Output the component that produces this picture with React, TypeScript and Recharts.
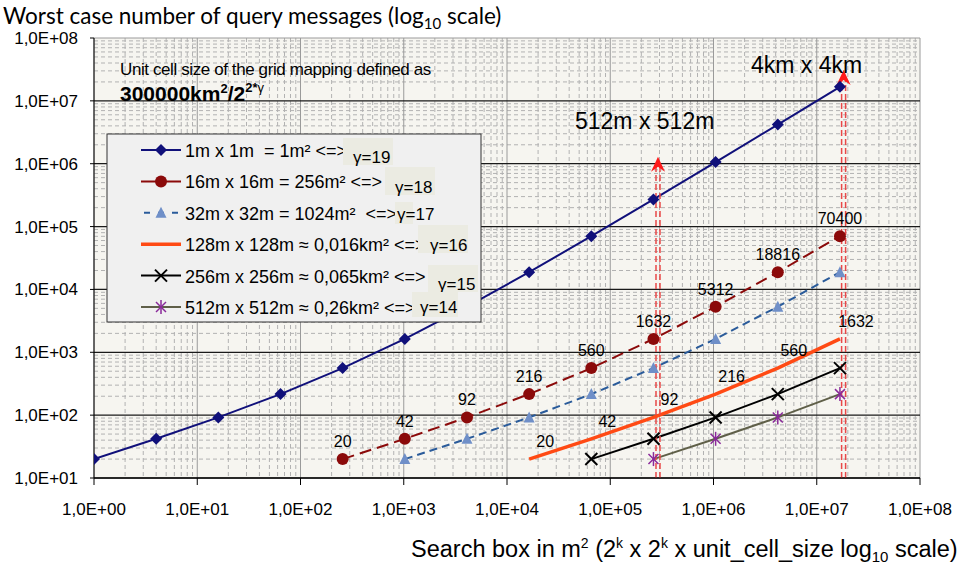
import React from 'react';
import { ComposedChart, Line, XAxis, YAxis, CartesianGrid, ReferenceLine, LabelList } from 'recharts';

const gamma19Sizes = [1, 4, 16, 64, 256, 1024, 4096, 16384, 65536, 262144, 1048576, 4194304, 16777216];
const gamma19Messages = [20, 42, 92, 216, 560, 1632, 5312, 18816, 70400, 270000, 1060000, 4200000, 16700000];
const gamma18Sizes = [256, 1024, 4096, 16384, 65536, 262144, 1048576, 4194304, 16777216];
const gamma18Messages = [20, 42, 92, 216, 560, 1632, 5312, 18816, 70400];
const gamma17Sizes = [1024, 4096, 16384, 65536, 262144, 1048576, 4194304, 16777216];
const gamma17Messages = [20, 42, 92, 216, 560, 1632, 5312, 18816];
const gamma16Sizes = [16384, 65536, 262144, 1048576, 4194304, 16777216];
const gamma16Messages = [20, 42, 92, 216, 560, 1632];
const gamma15Sizes = [65536, 262144, 1048576, 4194304, 16777216];
const gamma15Messages = [20, 42, 92, 216, 560];
const gamma14Sizes = [262144, 1048576, 4194304, 16777216];
const gamma14Messages = [20, 42, 92, 216];

const xTicks = [1, 10, 100, 1e3, 1e4, 1e5, 1e6, 1e7, 1e8];
const xTickLabels = ['1,0E+00', '1,0E+01', '1,0E+02', '1,0E+03', '1,0E+04', '1,0E+05', '1,0E+06', '1,0E+07', '1,0E+08'];
const yTicks = [10, 100, 1e3, 1e4, 1e5, 1e6, 1e7, 1e8];
const yTickLabels = ['1,0E+01', '1,0E+02', '1,0E+03', '1,0E+04', '1,0E+05', '1,0E+06', '1,0E+07', '1,0E+08'];
const minorMultipliers = [2, 3, 4, 5, 6, 7, 8, 9];

const arrowSizes = [290000, 18200000];
const arrowTops = [1290000, 31000000];
const arrowBottom = 10;

const legendLabels = [
  '1m x 1m  = 1m\u00b2 <=>',
  '16m x 16m = 256m\u00b2 <=>',
  '32m x 32m = 1024m\u00b2  <=>',
  '128m x 128m \u2248 0,016km\u00b2 <=>',
  '256m x 256m \u2248 0,065km\u00b2 <=>',
  '512m x 512m \u2248 0,26km\u00b2 <=>',
];
const gammaLabels = ['\u03b3=19', '\u03b3=18', '\u03b3=17', '\u03b3=16', '\u03b3=15', '\u03b3=14'];

const FONT = '"Liberation Sans", Arial, sans-serif';

const toPoints = (xs: number[], ys: number[]) => xs.map((x, i) => ({ x, y: ys[i] }));
const s19 = toPoints(gamma19Sizes, gamma19Messages);
const s18 = toPoints(gamma18Sizes, gamma18Messages);
const s17 = toPoints(gamma17Sizes, gamma17Messages);
const s16 = toPoints(gamma16Sizes, gamma16Messages);
const s15 = toPoints(gamma15Sizes, gamma15Messages);
const s14 = toPoints(gamma14Sizes, gamma14Messages);

const minorX = xTicks.slice(0, -1).flatMap((d) => minorMultipliers.map((m) => m * d));
const minorY = yTicks.slice(0, -1).flatMap((d) => minorMultipliers.map((m) => m * d));

const Diamond = ({ cx, cy }: any) => (
  <polygon points={`${cx},${cy - 6} ${cx + 6},${cy} ${cx},${cy + 6} ${cx - 6},${cy}`} fill="#10107a" />
);
const Circle = ({ cx, cy }: any) => <circle cx={cx} cy={cy} r={6} fill="#8b0a0a" />;
const Triangle = ({ cx, cy }: any) => (
  <polygon points={`${cx},${cy - 6} ${cx + 5.5},${cy + 5} ${cx - 5.5},${cy + 5}`} fill="#6f8fc8" />
);
const Cross = ({ cx, cy }: any) => (
  <g stroke="#000" strokeWidth={2}>
    <line x1={cx - 6} y1={cy - 6} x2={cx + 6} y2={cy + 6} />
    <line x1={cx - 6} y1={cy + 6} x2={cx + 6} y2={cy - 6} />
  </g>
);
const Star = ({ cx, cy }: any) => (
  <g stroke="#8a2a9a" strokeWidth={1.5}>
    <line x1={cx - 5} y1={cy - 5} x2={cx + 5} y2={cy + 5} />
    <line x1={cx - 5} y1={cy + 5} x2={cx + 5} y2={cy - 5} />
    <line x1={cx} y1={cy - 7} x2={cx} y2={cy + 7} />
  </g>
);

const dotOf = (Comp: any, name: string) => (p: any) => <Comp key={`${name}${p.index}`} cx={p.cx} cy={p.cy} />;

const XTick = (props: any) => {
  const { x, y, index } = props;
  return (
    <text x={x} y={y + 30} textAnchor="middle" fontFamily={FONT} fontSize={17} fill="#000">
      {xTickLabels[index]}
    </text>
  );
};
const YTick = (props: any) => {
  const { x, y, index } = props;
  return (
    <text x={x - 12} y={y + 6} textAnchor="end" fontFamily={FONT} fontSize={17} fill="#000">
      {yTickLabels[index]}
    </text>
  );
};

const labelAbove = (dx: number, dy: number) => (p: any) => (
  <text x={p.x + dx} y={p.y + dy} textAnchor="middle" fontFamily={FONT} fontSize={16} fill="#000">
    {p.value}
  </text>
);

const ArrowShape = (props: any) => {
  const { x1, y1, x2, y2 } = props;
  const x = (x1 + x2) / 2;
  const top = Math.min(y1, y2);
  const bottom = Math.max(y1, y2);
  return (
    <g>
      <line x1={x - 2} y1={bottom} x2={x - 2} y2={top + 10} stroke="#e84848" strokeWidth={1.5} strokeDasharray="6 3" />
      <line x1={x + 2} y1={bottom} x2={x + 2} y2={top + 10} stroke="#e84848" strokeWidth={1.5} strokeDasharray="6 3" />
      <polygon points={`${x},${top} ${x + 7},${top + 15} ${x},${top + 10} ${x - 7},${top + 15}`} fill="#ff1a1a" />
    </g>
  );
};

const legendRowY = (i: number) => 150 + i * 31.4;
const gammaPos = [
  { bx: 343, by: 138, bw: 50, bh: 27, tx: 353, ty: 163 },
  { bx: 385, by: 167, bw: 50, bh: 28, tx: 395, ty: 193 },
  { bx: 395, by: 202, bw: 18, bh: 22, tx: 397, ty: 220 },
  { bx: 418, by: 225, bw: 50, bh: 28, tx: 430, ty: 251 },
  { bx: 428, by: 265, bw: 50, bh: 27, tx: 438, ty: 290 },
  { bx: 412, by: 292, bw: 46, bh: 25, tx: 420, ty: 313 },
];

const LegendSample = ({ i, y }: { i: number; y: number }) => {
  const cx = 161;
  switch (i) {
    case 0:
      return (<g><line x1={141} y1={y} x2={181} y2={y} stroke="#10107a" strokeWidth={2} /><Diamond cx={cx} cy={y} /></g>);
    case 1:
      return (<g><line x1={141} y1={y} x2={181} y2={y} stroke="#8b0a0a" strokeWidth={2} /><Circle cx={cx} cy={y} /></g>);
    case 2:
      return (<g><line x1={141} y1={y} x2={181} y2={y} stroke="#2a5b9a" strokeWidth={2} strokeDasharray="6 8" strokeDashoffset={-3} /><Triangle cx={cx} cy={y} /></g>);
    case 3:
      return (<g><line x1={141} y1={y} x2={181} y2={y} stroke="#ff4a14" strokeWidth={3.5} /></g>);
    case 4:
      return (<g><line x1={141} y1={y} x2={181} y2={y} stroke="#000" strokeWidth={2} /><Cross cx={cx} cy={y} /></g>);
    default:
      return (<g><line x1={141} y1={y} x2={181} y2={y} stroke="#5f5f48" strokeWidth={2} /><Star cx={cx} cy={y} /></g>);
  }
};

export default function App() {
  return (
    <div style={{ position: 'absolute', left: 0, top: 0, width: 971, height: 565, background: '#fff' }}>
      <ComposedChart width={971} height={565} margin={{ top: 38, right: 51, bottom: 47, left: 0 }}>
        <CartesianGrid fill="#f6f5f0" stroke="#b2b2b2" strokeDasharray="4 3" horizontalValues={minorY} verticalValues={minorX} />
        <CartesianGrid stroke="#9a9a9a" horizontal={false} verticalValues={xTicks} />
        <CartesianGrid stroke="#9a9a9a" vertical={false} horizontalValues={[1e8]} />
        <CartesianGrid stroke="#1a1a1a" strokeWidth={1.3} vertical={false} horizontalValues={yTicks.slice(0, -1)} />
        <XAxis
          type="number"
          dataKey="x"
          scale="log"
          domain={[1, 1e8]}
          ticks={xTicks}
          allowDataOverflow
          height={40}
          tick={<XTick />}
          tickSize={7}
          tickMargin={0}
          axisLine={{ stroke: '#000' }}
          tickLine={{ stroke: '#000' }}
          interval={0}
        />
        <YAxis
          type="number"
          dataKey="y"
          scale="log"
          domain={[10, 1e8]}
          ticks={yTicks}
          allowDataOverflow
          width={94}
          tick={<YTick />}
          tickSize={4}
          tickMargin={0}
          axisLine={{ stroke: '#000' }}
          tickLine={{ stroke: '#000' }}
          interval={0}
        />
        <Line data={s19} dataKey="y" stroke="#10107a" strokeWidth={2} dot={dotOf(Diamond, 'a')} isAnimationActive={false} />
        <Line data={s18} dataKey="y" stroke="#8b0a0a" strokeWidth={2} strokeDasharray="12 6" dot={dotOf(Circle, 'b')} isAnimationActive={false}>
          <LabelList dataKey="y" content={labelAbove(0, -12)} />
        </Line>
        <Line data={s17} dataKey="y" stroke="#2a5b9a" strokeWidth={2} strokeDasharray="8 5" dot={dotOf(Triangle, 'c')} isAnimationActive={false} />
        <Line data={s16} dataKey="y" stroke="#ff4a14" strokeWidth={3.5} dot={false} isAnimationActive={false}>
          <LabelList dataKey="y" content={labelAbove(16, -12)} />
        </Line>
        <Line data={s15} dataKey="y" stroke="#000" strokeWidth={2} dot={dotOf(Cross, 'd')} isAnimationActive={false} />
        <Line data={s14} dataKey="y" stroke="#5f5f48" strokeWidth={2} dot={dotOf(Star, 'e')} isAnimationActive={false} />
        {arrowSizes.map((s, i) => (
          <ReferenceLine
            key={`arrow${i}`}
            segment={[{ x: s, y: arrowBottom }, { x: s, y: arrowTops[i] }]}
            shape={ArrowShape}
            ifOverflow="visible"
          />
        ))}
      </ComposedChart>
      <svg width={971} height={565} style={{ position: 'absolute', left: 0, top: 0, pointerEvents: 'none', whiteSpace: 'pre' }}>
        <text x={3} y={24} fontFamily="Lato, sans-serif" fontSize={22.5} fill="#000">
          Worst case number of query messages (log<tspan fontSize={15} dy={5}>10</tspan><tspan dy={-5}> scale)</tspan>
        </text>
        <text x={411} y={557} fontFamily={FONT} fontSize={23.5} fill="#000">
          Search box in m<tspan fontSize={14} dy={-9}>2</tspan><tspan dy={9}> (2</tspan><tspan fontSize={14} dy={-9}>k</tspan><tspan dy={9}> x 2</tspan><tspan fontSize={14} dy={-9}>k</tspan><tspan dy={9}> x unit_cell_size log</tspan><tspan fontSize={15} dy={5}>10</tspan><tspan dy={-5}> scale)</tspan>
        </text>
        <text x={120} y={75} fontFamily={FONT} fontSize={17} letterSpacing={-0.4} fill="#000">
          Unit cell size of the grid mapping defined as
        </text>
        <text x={120} y={101} fontFamily={FONT} fontSize={21} fontWeight="bold" fill="#000">
          300000km<tspan fontSize={13} dy={-8}>2</tspan><tspan dy={8}>/2</tspan><tspan fontSize={13} dy={-9}>2*</tspan><tspan fontSize={13} fontWeight="normal">{'\u03b3'}</tspan>
        </text>
        <text x={575} y={129} fontFamily={FONT} fontSize={23} fill="#000">512m x 512m</text>
        <text x={751} y={73} fontFamily={FONT} fontSize={23} fill="#000">4km x 4km</text>
        <rect x={107} y={134} width={374} height={188} fill="#f0f0f0" stroke="#333" strokeWidth={1} />
        {legendLabels.map((label, i) => {
          const y = legendRowY(i);
          const g = gammaPos[i];
          return (
            <g key={`lg${i}`}>
              <LegendSample i={i} y={y} />
              <text x={185} y={y + 7} fontFamily={FONT} fontSize={18} fill="#000" style={{ whiteSpace: 'pre' }}>{label}</text>
              <rect x={g.bx} y={g.by} width={g.bw} height={g.bh} fill="#ebebe2" />
              <text x={g.tx} y={g.ty} fontFamily={FONT} fontSize={17} fill="#000">{gammaLabels[i]}</text>
            </g>
          );
        })}
      </svg>
    </div>
  );
}
